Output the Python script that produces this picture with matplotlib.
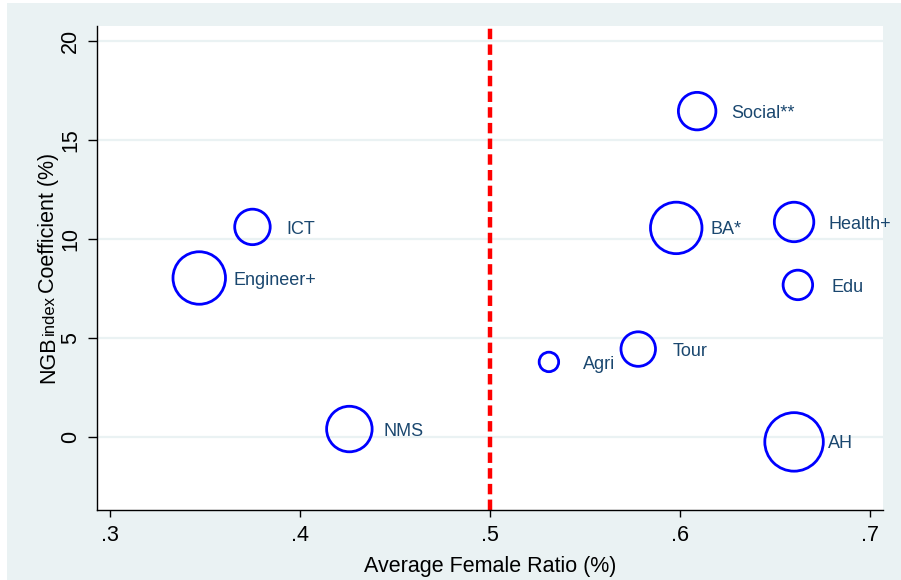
import matplotlib
matplotlib.use("Agg")
import numpy as np
import matplotlib.pyplot as plt
from matplotlib.patches import Rectangle
from matplotlib.transforms import IdentityTransform

plt.rcParams["font.family"] = ["Liberation Sans", "DejaVu Sans"]
plt.rcParams["lines.scale_dashes"] = False

# Data
fields = ["ICT", "Engineer+", "NMS", "Agri", "Tour",
          "Social**", "BA*", "Health+", "Edu", "AH"]
female_ratio = [0.375, 0.347, 0.426, 0.531, 0.578,
                0.609, 0.598, 0.660, 0.662, 0.660]
ngb_coef = [10.61, 8.03, 0.40, 3.79, 4.44,
            16.46, 10.56, 10.86, 7.68, -0.25]
weights = [315, 689, 518, 95, 298, 352, 663, 390, 218, 856]

xticks = [0.3, 0.4, 0.5, 0.6, 0.7]
xtick_labels = [".3", ".4", ".5", ".6", ".7"]
yticks = [0, 5, 10, 15, 20]

bg = "#eaf2f3"
navy = "#1a476f"

fig = plt.figure(figsize=(9.01, 5.80), dpi=100, facecolor="white")
fig.patches.append(Rectangle((7 / 901, 0), 1, 577 / 580, transform=fig.transFigure,
                             facecolor=bg, edgecolor="none", zorder=-10))
ax = fig.add_axes([97 / 901, 70 / 580, 786 / 901, 484 / 580])
ax.set_facecolor("white")

ax.set_xlim(0.2932, 0.7068)
ax.set_ylim(-3.69, 20.76)

# horizontal grid
for yv in yticks:
    ax.axhline(yv, color=bg, lw=1.6, zorder=0)

# reference line
ax.axvline(0.5, color="#ff0000", lw=3.2, dashes=(7.5, 3.8), zorder=1)

sizes = 2.0736 * np.array(weights)
ax.scatter(female_ratio, ngb_coef, s=sizes, facecolors="none",
           edgecolors="#0000ff", linewidths=2.0, zorder=3)

for name, xv, yv in zip(fields, female_ratio, ngb_coef):
    ax.annotate(name, (xv, yv), xytext=(24.5, -1.5), textcoords="offset points",
                ha="left", va="center", fontsize=13, color=navy, zorder=4)

for side in ["top", "right"]:
    ax.spines[side].set_visible(False)
for side in ["left", "bottom"]:
    ax.spines[side].set_linewidth(1.0)
    ax.spines[side].set_color("black")

ax.set_xticks(xticks)
ax.set_xticklabels(xtick_labels)
ax.set_yticks(yticks)
ax.set_yticklabels([str(v) for v in yticks], rotation=90, va="center")
ax.tick_params(axis="both", width=1.0, labelsize=15.5)
ax.tick_params(axis="x", length=5, pad=6)
ax.tick_params(axis="y", length=6.5, pad=5)

ax.set_xlabel("Average Female Ratio (%)", fontsize=15.5, labelpad=7)

# y label built from pieces ("index" smaller)
pieces = [("NGB", 15.5), ("index", 12), ("Coefficient (%)", 15.5)]
fig.canvas.draw()
renderer = fig.canvas.get_renderer()
texts = []
lengths = []
for s, fs in pieces:
    t = fig.text(0, 0, s, fontsize=fs, rotation=90, rotation_mode="anchor",
                 ha="left", va="baseline", transform=IdentityTransform())
    lengths.append(t.get_window_extent(renderer).height)
    texts.append(t)
gap = 2
total = sum(lengths) + gap * (len(pieces) - 1)
y_center = 70 + 484 / 2
y0 = y_center - total / 2
for t, L in zip(texts, lengths):
    t.set_position((54, y0))
    y0 += L + gap

fig.savefig("out.png", dpi=100, facecolor=fig.get_facecolor())
